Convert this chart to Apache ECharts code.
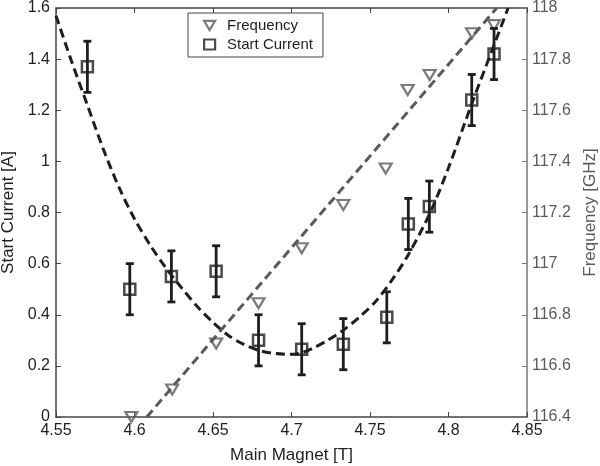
<!DOCTYPE html>
<html>
<head>
<meta charset="utf-8">
<script src="https://cdn.jsdelivr.net/npm/echarts@6/dist/echarts.min.js"></script>
<style>html,body{margin:0;padding:0;background:#fff;}#c{width:600px;height:466px;}</style>
</head>
<body>
<div id="c"></div>
<script>
// ---- data ----
const currentX   = [4.570, 4.597, 4.6235, 4.652, 4.679, 4.7065, 4.733, 4.7607, 4.7744, 4.7878, 4.8148, 4.829];
const currentY   = [1.37, 0.50, 0.55, 0.57, 0.30, 0.265, 0.285, 0.39, 0.755, 0.823, 1.24, 1.42];
const currentErr = [0.1, 0.1, 0.1, 0.1, 0.1, 0.1, 0.1, 0.1, 0.1, 0.1, 0.1, 0.1];

const freqX = [4.598, 4.624, 4.652, 4.679, 4.7065, 4.733, 4.760, 4.774, 4.788, 4.815, 4.829];
const freqY = [116.40, 116.508, 116.688, 116.845, 117.06, 117.229, 117.372, 117.679, 117.738, 117.901, 117.933];

const fitCurrentX = [4.55, 4.56, 4.57, 4.58, 4.59, 4.60, 4.61, 4.62, 4.63, 4.64, 4.65, 4.66, 4.67, 4.68, 4.69, 4.70, 4.707, 4.714, 4.723, 4.733, 4.744, 4.754, 4.7645, 4.7744, 4.788, 4.80, 4.8148, 4.829, 4.838];
const fitCurrentY = [1.57, 1.39, 1.22, 1.05, 0.90, 0.775, 0.672, 0.583, 0.505, 0.432, 0.37, 0.318, 0.283, 0.259, 0.248, 0.245, 0.252, 0.27, 0.30, 0.34, 0.395, 0.455, 0.54, 0.635, 0.795, 0.975, 1.225, 1.455, 1.6];

const fitFreqX = [4.6078, 4.8307];
const fitFreqY = [116.4, 118.0];

const xRange = {min: 4.55, max: 4.85, interval: 0.05};
const yLeftRange = {min: 0, max: 1.6, interval: 0.2};
const yRightRange = {min: 116.4, max: 118, interval: 0.2};

const xTitle = 'Main Magnet [T]';
const yLeftTitle = 'Start Current [A]';
const yRightTitle = 'Frequency [GHz]';

// ---- chart ----
const zip = (a, b) => a.map((v, i) => [v, b[i]]);
const FONT = 'Liberation Sans, Arial, sans-serif';
const DARK = '#1e1e1e';
const GRAY = '#5a5a5a';

const chart = echarts.init(document.getElementById('c'), null, {renderer: 'canvas'});

const errData = currentX.map((x, i) => [x, currentY[i] - currentErr[i], currentY[i] + currentErr[i]]);

const option = {
  animation: false,
  backgroundColor: '#fff',
  textStyle: {fontFamily: FONT},
  grid: {left: 56, right: 73, top: 8, bottom: 49, containLabel: false, outerBoundsMode: 'none'},
  legend: {
    orient: 'vertical',
    left: 188, top: 13,
    padding: [5, 10, 5, 15],
    itemGap: 4,
    itemWidth: 11, itemHeight: 10,
    borderColor: '#444', borderWidth: 1,
    backgroundColor: '#fff',
    textStyle: {fontFamily: FONT, fontSize: 15, color: DARK, padding: [0, 0, 0, 7]},
    data: [
      {name: 'Frequency', icon: 'path://M0,0 L12,0 L6,10 Z',
       itemStyle: {color: 'transparent', borderColor: GRAY, borderWidth: 2.2}},
      {name: 'Start Current', icon: 'rect',
       itemStyle: {color: 'transparent', borderColor: DARK, borderWidth: 2.2}}
    ]
  },
  xAxis: [{
    type: 'value', position: 'bottom',
    min: xRange.min, max: xRange.max, interval: xRange.interval,
    name: xTitle, nameLocation: 'middle', nameGap: 30,
    nameTextStyle: {fontFamily: FONT, fontSize: 17, color: DARK},
    axisLine: {show: true, lineStyle: {color: '#444', width: 1.5}},
    axisTick: {show: true, inside: true, length: 5, lineStyle: {color: '#444'}},
    axisLabel: {margin: 6, fontFamily: FONT, fontSize: 16, color: DARK,
      formatter: v => String(+v.toFixed(2))},
    splitLine: {show: false}
  }, {
    type: 'value', position: 'top',
    min: xRange.min, max: xRange.max, interval: xRange.interval,
    axisLine: {show: true, onZero: false, lineStyle: {color: '#444', width: 1.5}},
    axisTick: {show: true, inside: true, length: 5, lineStyle: {color: '#444'}},
    axisLabel: {show: false},
    splitLine: {show: false}
  }],
  yAxis: [{
    type: 'value', position: 'left',
    min: yLeftRange.min, max: yLeftRange.max, interval: yLeftRange.interval,
    name: yLeftTitle, nameLocation: 'middle', nameGap: 37,
    nameTextStyle: {fontFamily: FONT, fontSize: 17, color: DARK},
    axisLine: {show: true, onZero: false, lineStyle: {color: '#444', width: 1.5}},
    axisTick: {show: true, inside: true, length: 5, lineStyle: {color: '#444'}},
    axisLabel: {margin: 6, fontFamily: FONT, fontSize: 16, color: DARK,
      formatter: v => String(+v.toFixed(1))},
    splitLine: {show: false}
  }, {
    type: 'value', position: 'right',
    min: yRightRange.min, max: yRightRange.max, interval: yRightRange.interval,
    name: yRightTitle, nameLocation: 'middle', nameGap: 54,
    nameTextStyle: {fontFamily: FONT, fontSize: 17, color: GRAY},
    axisLine: {show: true, onZero: false, lineStyle: {color: '#777', width: 1.5}},
    axisTick: {show: true, inside: true, length: 5, lineStyle: {color: '#777'}},
    axisLabel: {margin: 5, fontFamily: FONT, fontSize: 16, color: GRAY,
      formatter: v => String(+v.toFixed(1))},
    splitLine: {show: false}
  }],
  series: [
    {
      name: 'Start Current fit', type: 'line', xAxisIndex: 0, yAxisIndex: 0,
      data: zip(fitCurrentX, fitCurrentY), smooth: 0.3, showSymbol: false, clip: false,
      lineStyle: {color: DARK, width: 3, type: [9, 5]}, z: 2, silent: true
    },
    {
      name: 'Frequency fit', type: 'line', xAxisIndex: 0, yAxisIndex: 1,
      data: zip(fitFreqX, fitFreqY), showSymbol: false, clip: false,
      lineStyle: {color: GRAY, width: 3, type: [9, 5]}, z: 2, silent: true
    },
    {
      name: 'Frequency', type: 'scatter', xAxisIndex: 0, yAxisIndex: 1,
      data: zip(freqX, freqY), symbol: 'path://M0,0 L12,0 L6,10 Z', symbolSize: [12, 10],
      clip: false,
      itemStyle: {color: 'transparent', borderColor: GRAY, borderWidth: 2.2}, z: 3
    },
    {
      name: 'Start Current error', type: 'custom', xAxisIndex: 0, yAxisIndex: 0,
      data: errData, clip: false, z: 4,
      renderItem: function (params, api) {
        const x = api.value(0);
        const lo = api.coord([x, api.value(1)]);
        const hi = api.coord([x, api.value(2)]);
        const cap = 4;
        const style = {stroke: DARK, lineWidth: 2.8, fill: null};
        return {
          type: 'group',
          children: [
            {type: 'line', shape: {x1: lo[0], y1: lo[1], x2: hi[0], y2: hi[1]}, style: style},
            {type: 'line', shape: {x1: lo[0] - cap, y1: lo[1], x2: lo[0] + cap, y2: lo[1]}, style: style},
            {type: 'line', shape: {x1: hi[0] - cap, y1: hi[1], x2: hi[0] + cap, y2: hi[1]}, style: style}
          ]
        };
      },
      encode: {x: 0, y: [1, 2]}
    },
    {
      name: 'Start Current', type: 'scatter', xAxisIndex: 0, yAxisIndex: 0,
      data: zip(currentX, currentY), symbol: 'rect', symbolSize: 11, clip: false,
      itemStyle: {color: 'transparent', borderColor: DARK, borderWidth: 2.5}, z: 5
    }
  ]
};
chart.setOption(option);
</script>
</body>
</html>
